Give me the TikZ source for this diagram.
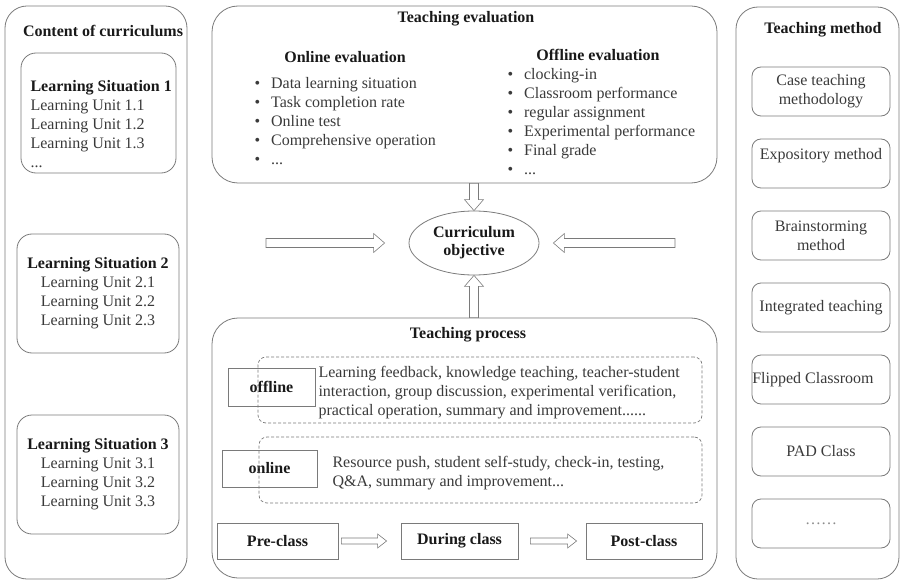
\documentclass[tikz,border=0pt]{standalone}
\usepackage{fontspec}
\setmainfont{Liberation Serif}
\usetikzlibrary{calc,shapes.geometric}

\definecolor{linegray}{HTML}{7A7A7A}
\definecolor{textgray}{HTML}{3A3A3A}
\newcommand{\evitem}{\textbullet\hspace{11pt}}

\tikzset{
  every node/.style={font=\fontsize{16}{19}\selectfont, text=textgray},
  heading/.style={font=\fontsize{16}{19}\selectfont\bfseries, text=black!90},
  panel/.style={draw=linegray, rounded corners=22pt, line width=0.8pt},
  unitbox/.style={draw=linegray, rounded corners=15pt, line width=0.8pt, align=center},
  methodbox/.style={draw=linegray, rounded corners=9pt, line width=0.8pt,
    minimum width=138pt, minimum height=49pt, inner xsep=0pt, align=center},
  dashbox/.style={draw=linegray, dash pattern=on 3pt off 2pt, rounded corners=8pt, line width=0.7pt},
  plainbox/.style={draw=linegray, line width=0.8pt},
  % outlined block arrow: shaft half width, head half width, head length
  hollow/.style n args={3}{draw=linegray, line width=0.6pt, fill=white, line join=miter,
    to path={($(\tikztostart)!#1!90:(\tikztotarget)$)
      -- ($(\tikztotarget)!#3!(\tikztostart)!#1!90:(\tikztotarget)$)
      -- ($(\tikztotarget)!#3!(\tikztostart)!#2!90:(\tikztotarget)$)
      -- (\tikztotarget)
      -- ($(\tikztotarget)!#3!(\tikztostart)!#2!-90:(\tikztotarget)$)
      -- ($(\tikztotarget)!#3!(\tikztostart)!#1!-90:(\tikztotarget)$)
      -- ($(\tikztostart)!#1!-90:(\tikztotarget)$) -- cycle}},
  bigarrow/.style={hollow={4.5pt}{9.5pt}{11pt}},
  smallarrow/.style={hollow={3pt}{7pt}{9pt}}
}

\begin{document}
\begin{tikzpicture}[x=1pt, y=-1pt]
  \useasboundingbox (0,0) rectangle (902,580);

  % content of curriculums
  \node[panel, minimum width=182pt, minimum height=573pt] (content) at (96,292.5) {};
  \node[heading] (contenttitle) at (103,31) {Content of curriculums};

  \node[unitbox, minimum width=155pt, minimum height=120pt] (ls1) at (98.5,113) {};
  \node[anchor=west, align=left] (ls1text) at (27,124)
    {\textbf{\color{black!90}Learning Situation 1}\\Learning Unit 1.1\\Learning Unit 1.2\\Learning Unit 1.3\\...};
  \node[unitbox, minimum width=162pt, minimum height=119pt] (ls2) at (98,293.5)
    {\textbf{\color{black!90}Learning Situation 2}\\Learning Unit 2.1\\Learning Unit 2.2\\Learning Unit 2.3};
  \node[unitbox, minimum width=162pt, minimum height=119pt] (ls3) at (98,474.5)
    {\textbf{\color{black!90}Learning Situation 3}\\Learning Unit 3.1\\Learning Unit 3.2\\Learning Unit 3.3};

  % teaching evaluation
  \node[panel, rounded corners=26pt, minimum width=505pt, minimum height=177pt] (eval) at (464.5,94.5) {};
  \node[heading] (evaltitle) at (466,19) {Teaching evaluation};
  \node[heading] (ontitle) at (345,57) {Online evaluation};
  \node[heading] (offtitle) at (598,55) {Offline evaluation};
  \node[anchor=west, align=left] (onlist) at (251,121)
    {\evitem Data learning situation\\\evitem Task completion rate\\\evitem Online test\\
     \evitem Comprehensive operation\\\evitem ...};
  \node[anchor=west, align=left] (offlist) at (504,122)
    {\evitem clocking-in\\\evitem Classroom performance\\\evitem regular assignment\\
     \evitem Experimental performance\\\evitem Final grade\\\evitem ...};

  % curriculum objective
  \node[draw=linegray, line width=0.8pt, ellipse, minimum width=130pt, minimum height=64pt,
    heading, align=center, font=\fontsize{16}{18}\selectfont\bfseries] (goal) at (474,243)
    {Curriculum\\objective};

  % teaching process
  \node[panel, rounded corners=26pt, minimum width=505pt, minimum height=260pt] (process) at (464.5,448) {};
  \node[heading] (processtitle) at (468,335) {Teaching process};

  \node[plainbox, minimum width=87pt, minimum height=38pt, heading] (offline) at (271.5,387) {offline};
  \node[dashbox, minimum width=444pt, minimum height=66pt] (offarea) at (480,390) {};
  \node[anchor=west, align=left] (offtext) at (315,392.5)
    {Learning feedback, knowledge teaching, teacher-student\\
     interaction, group discussion, experimental verification,\\
     practical operation, summary and improvement......};

  \node[plainbox, minimum width=95pt, minimum height=37pt, heading] (online) at (269.5,468.5) {online};
  \node[dashbox, minimum width=443pt, minimum height=66pt] (onarea) at (480.5,470) {};
  \node[anchor=west, align=left] (ontext) at (329,473.5)
    {Resource push, student self-study, check-in, testing,\\
     Q\&A, summary and improvement...};

  \node[plainbox, minimum width=121pt, minimum height=36pt, heading] (pre) at (277.5,541) {Pre-class};
  \node[plainbox, minimum width=117pt, minimum height=36pt, heading] (during) at (459.5,541) {During class};
  \node[plainbox, minimum width=116pt, minimum height=36pt, heading] (post) at (644,541) {Post-class};

  % teaching method
  \node[panel, minimum width=163pt, minimum height=572pt] (method) at (817.5,293) {};
  \node[heading] (methodtitle) at (823,30) {Teaching method};
  \node[methodbox] (m1) at (821,91.5) {Case teaching\\methodology};
  \node[methodbox] (m2) at (821,163.5) {Expository method\\\mbox{}};
  \node[methodbox] (m3) at (821,235.5) {Brainstorming\\method};
  \node[methodbox] (m4) at (821,307.5) {Integrated teaching};
  \node[methodbox] (m5) at (821,379.5) {Flipped Classroom\hspace*{16pt}};
  \node[methodbox] (m6) at (821,451.5) {PAD Class};
  \node[methodbox, text=black!45] (m7) at (821,523.5) {……};

  % arrow ends
  \coordinate (evalfoot) at (goal |- eval.south);
  \coordinate (processtop) at (goal |- process.north);
  \coordinate (lefttail) at (266,243);
  \coordinate (lefttip) at ([xshift=-24pt]goal.west);
  \coordinate (righttail) at (675,243);
  \coordinate (righttip) at ([xshift=14pt]goal.east);
  \coordinate (pretail) at ([xshift=3pt]pre.east);
  \coordinate (pretip) at ([xshift=-14pt]during.west);
  \coordinate (duringtail) at ([xshift=12pt]during.east);
  \coordinate (duringtip) at ([xshift=-9pt]post.west);

  % hollow arrows
  \draw[bigarrow] (evalfoot) to (goal.north);
  \draw[bigarrow] (processtop) to (goal.south);
  \draw[bigarrow] (lefttail) to (lefttip);
  \draw[bigarrow] (righttail) to (righttip);
  \draw[smallarrow] (pretail) to (pretip);
  \draw[smallarrow] (duringtail) to (duringtip);
\end{tikzpicture}
\end{document}
